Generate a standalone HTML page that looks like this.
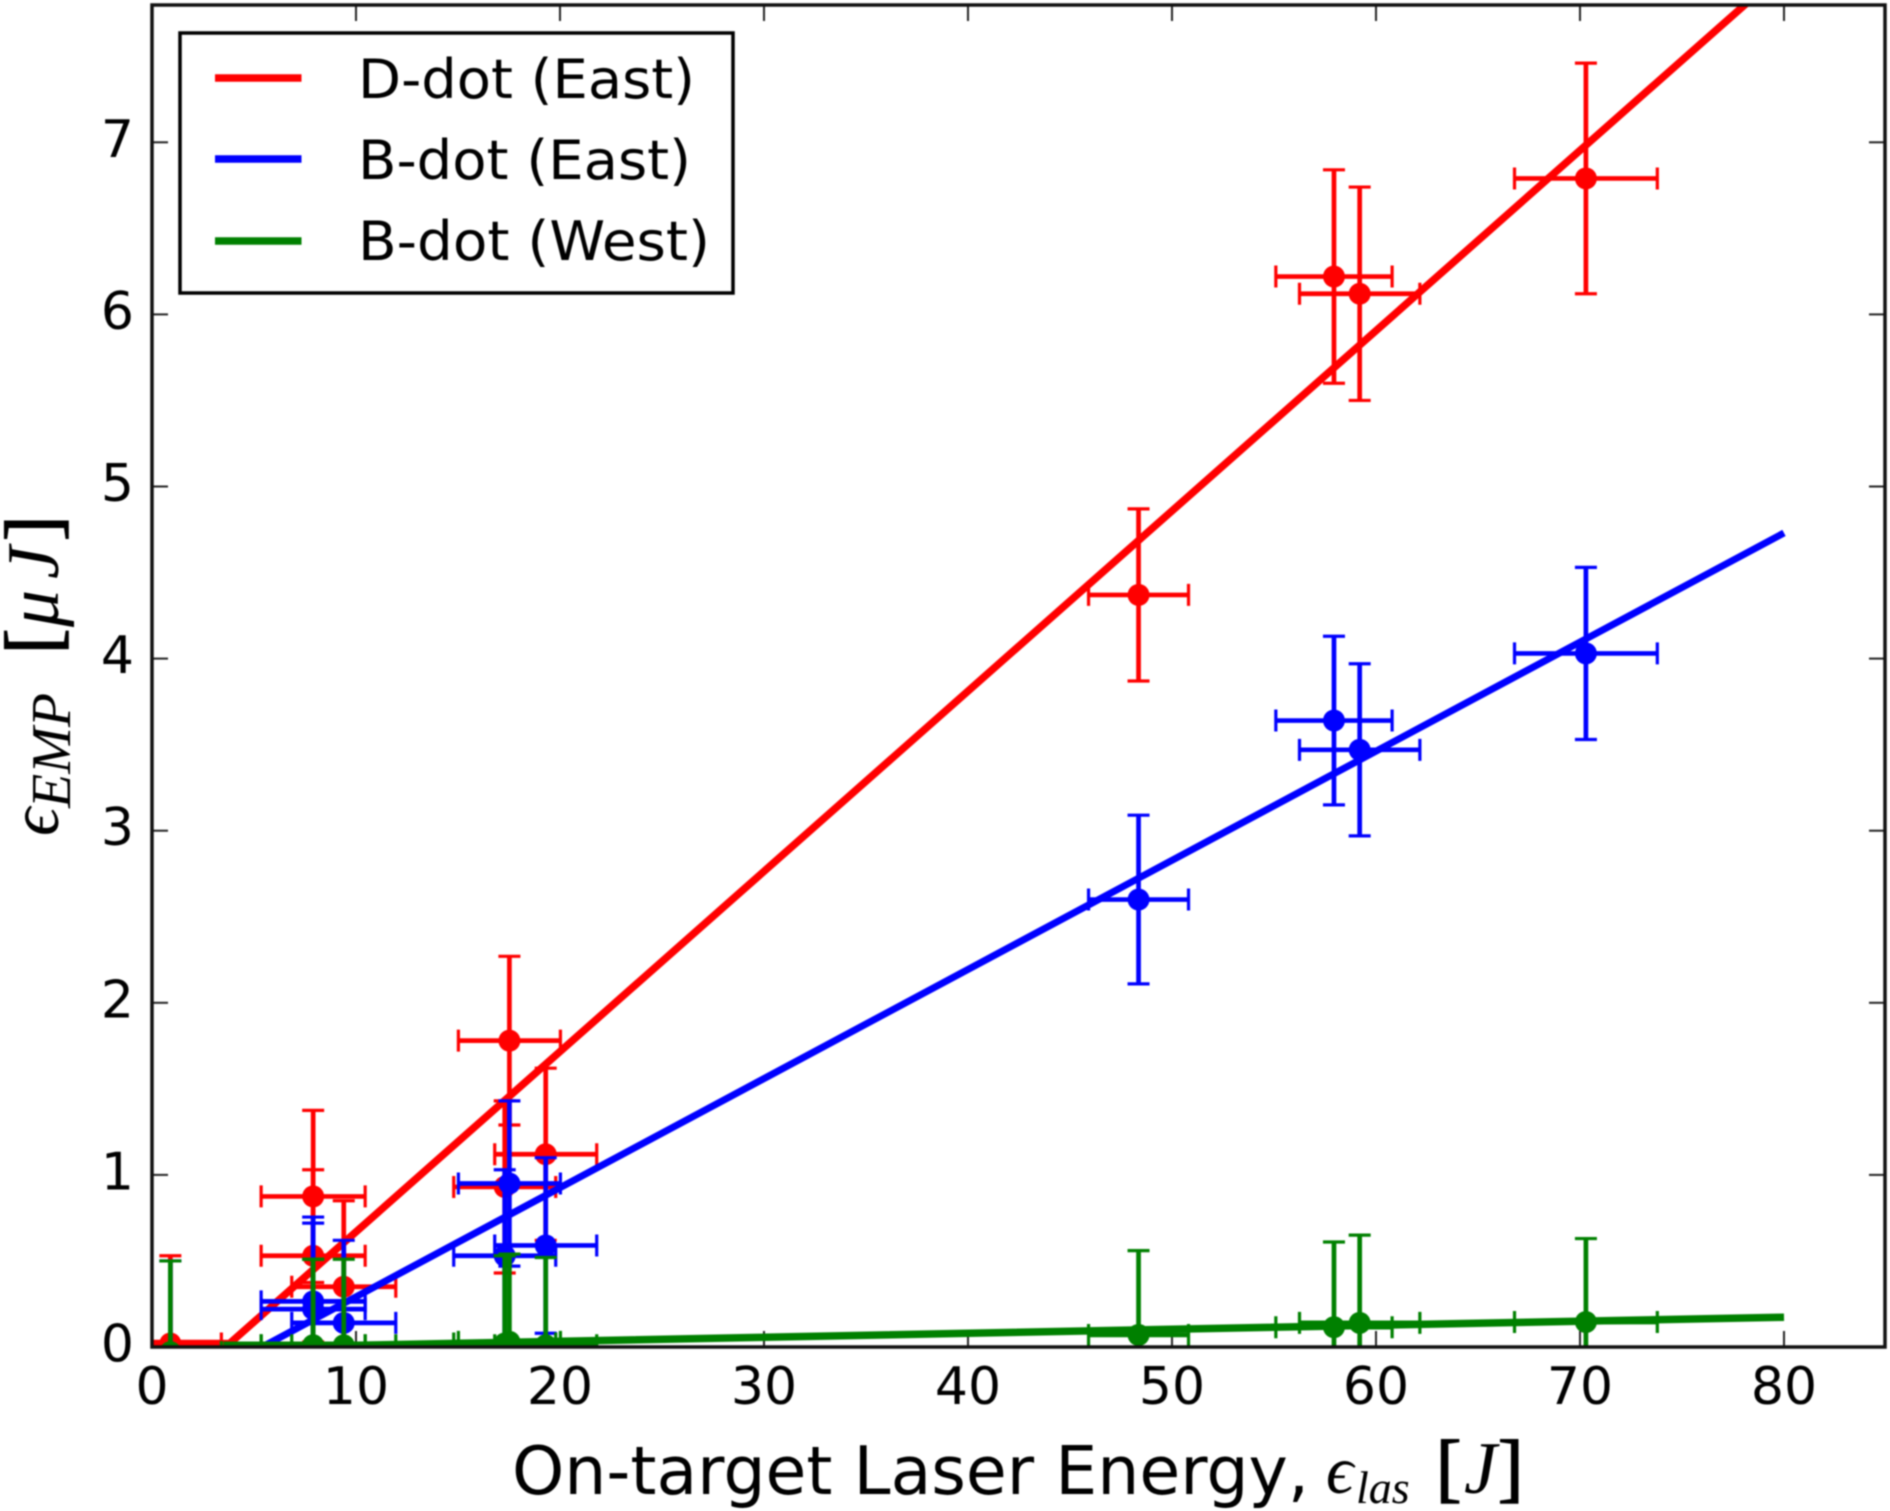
<!DOCTYPE html>
<html lang="en">
<head>
<meta charset="utf-8">
<title>EMP energy vs on-target laser energy</title>
<style>
html,body{margin:0;padding:0;background:#fff;width:1890px;height:1511px;overflow:hidden}
#chart{display:block;filter:blur(0.9px)}
text{fill:#000}
.sans{font-family:"DejaVu Sans","Liberation Sans",sans-serif}
.serif{font-family:"Liberation Serif","DejaVu Serif",serif}
.bracket{stroke:#000;stroke-width:1.6px}
</style>
</head>
<body>
<svg id="chart" xmlns="http://www.w3.org/2000/svg" width="1890" height="1511" viewBox="0 0 1890 1511">
  <defs><clipPath id="plot-clip"><rect x="152" y="5" width="1733" height="1342"/></clipPath></defs>
  <rect x="152" y="5" width="1733" height="1342" fill="#fff"/>
  <g id="ticks"></g>
  <g id="marks" clip-path="url(#plot-clip)"></g>
  <rect x="152" y="5" width="1733" height="1342" fill="none" stroke="#111" stroke-width="3.5"/>
  <g id="labels"></g>

  <g>
    <rect x="180" y="33" width="553" height="260" fill="#fff" stroke="#000" stroke-width="3.5"/>
    <line x1="215" x2="301.5" y1="78" y2="78" stroke="#ff0000" stroke-width="7.5"/>
    <line x1="215" x2="301.5" y1="159" y2="159" stroke="#0000ff" stroke-width="7.5"/>
    <line x1="215" x2="301.5" y1="241" y2="241" stroke="#008000" stroke-width="7.5"/>
    <text class="sans" x="358" y="98" font-size="54" textLength="337" lengthAdjust="spacingAndGlyphs">D-dot (East)</text>
    <text class="sans" x="358" y="179" font-size="54" textLength="333" lengthAdjust="spacingAndGlyphs">B-dot (East)</text>
    <text class="sans" x="358" y="260" font-size="54" textLength="352" lengthAdjust="spacingAndGlyphs">B-dot (West)</text>
  </g>

  <g>
    <text class="sans" x="512" y="1494" font-size="67" textLength="797" lengthAdjust="spacingAndGlyphs">On-target Laser Energy,</text>
    <text class="serif" y="1493" font-size="74">
      <tspan x="1326" font-size="68" font-style="italic">ϵ</tspan><tspan x="1356" y="1503" font-size="46" font-style="italic">las</tspan><tspan class="bracket" x="1436" y="1493" font-size="76">[</tspan><tspan x="1464" font-style="italic">J</tspan><tspan class="bracket" x="1498" font-size="76">]</tspan>
    </text>
  </g>

  <g transform="translate(58,0) rotate(-90)">
    <text class="serif" y="0" font-size="74">
      <tspan x="-836" font-size="70" font-style="italic">ϵ</tspan><tspan x="-808" y="12" font-size="56" font-style="italic">EMP</tspan><tspan class="bracket" x="-654" y="0" font-size="76">[</tspan><tspan x="-627" font-style="italic">μ</tspan><tspan x="-579" font-style="italic">J</tspan><tspan class="bracket" x="-541" font-size="76">]</tspan>
    </text>
  </g>
</svg>

<script>
// Chart data
const energy = [0.9, 7.9, 7.9, 9.4, 17.52, 17.29, 19.3, 48.36, 57.94, 59.2, 70.29];
const energyErr = [2.5, 2.55, 2.55, 2.55, 2.5, 2.5, 2.5, 2.45, 2.85, 2.95, 3.5];

const dDotEast = [0.02, 0.875, 0.53, 0.35, 1.78, 0.93, 1.12, 4.37, 6.22, 6.12, 6.79];
const dDotEastErr = [0.51, 0.5, 0.5, 0.5, 0.49, 0.5, 0.5, 0.5, 0.62, 0.62, 0.67];

const bDotEast = [-0.07, 0.265, 0.22, 0.14, 0.95, 0.53, 0.59, 2.6, 3.64, 3.47, 4.03];
const bDotEastErr = [0.57, 0.49, 0.5, 0.48, 0.48, 0.5, 0.51, 0.49, 0.49, 0.5, 0.5];

const bDotWest = [-0.03, 0.01, 0.01, 0.01, 0.03, 0.02, 0.01, 0.07, 0.115, 0.14, 0.145];
const bDotWestErr = [0.53, 0.5, 0.5, 0.5, 0.51, 0.51, 0.51, 0.49, 0.495, 0.51, 0.485];

const dDotFitX = [0, 3.8, 80];
const dDotFitY = [0.02, 0.02, 8.0];
const bDotEastFitX = [5.4, 80];
const bDotEastFitY = [0, 4.73];
const bDotWestFitX = [3.5, 10, 80];
const bDotWestFitY = [0.01, 0.01, 0.173];

const xTickValues = [0, 10, 20, 30, 40, 50, 60, 70, 80];
const yTickValues = [0, 1, 2, 3, 4, 5, 6, 7];

// Axis functions
function xs(v) { return 152 + v * 20.4; }
function ys(v) { return 1347 - v * 172.1; }

const NS = 'http://www.w3.org/2000/svg';
function mk(tag, parent, props) {
  const node = document.createElementNS(NS, tag);
  for (const k in props) node.setAttribute(k, props[k]);
  parent.appendChild(node);
  return node;
}

const ticksG = document.getElementById('ticks');
const labelsG = document.getElementById('labels');
const marksG = document.getElementById('marks');
const TICK = 16;

xTickValues.forEach(function (v) {
  const x = xs(v);
  const bottomTick = mk('line', ticksG, {x1: x, x2: x, y1: 1347, y2: 1347 - TICK, stroke: '#222', 'stroke-width': 2});
  
  
  const topTick = mk('line', ticksG, {x1: x, x2: x, y1: 5, y2: 5 + TICK, stroke: '#222', 'stroke-width': 2});
  
  
  const label = mk('text', labelsG, {x: x, y: 1404, 'text-anchor': 'middle', 'font-size': 52, class: 'sans'});
  label.textContent = String(v);
  
  
});

yTickValues.forEach(function (v) {
  const y = ys(v);
  const leftTick = mk('line', ticksG, {x1: 152, x2: 152 + TICK, y1: y, y2: y, stroke: '#222', 'stroke-width': 2});
  
  
  const rightTick = mk('line', ticksG, {x1: 1885, x2: 1885 - TICK, y1: y, y2: y, stroke: '#222', 'stroke-width': 2});
  
  
  const label = mk('text', labelsG, {x: 134, y: y + 14.5, 'text-anchor': 'end', 'font-size': 52, class: 'sans'});
  label.textContent = String(v);
  
  
});

function drawSeries(slug, color, values, errors, fitX, fitY, fitWidth) {
  const group = mk('g', marksG, {});
  
  

  values.forEach(function (val, i) {
    const cx = xs(energy[i]);
    const cy = ys(val);
    const xL = xs(energy[i] - energyErr[i]);
    const xR = xs(energy[i] + energyErr[i]);
    const yT = ys(val + errors[i]);
    const yB = ys(val - errors[i]);
    const barPath = 'M' + xL + ' ' + cy + 'H' + xR + 'M' + cx + ' ' + yT + 'V' + yB;
    const bar = mk('path', group, {d: barPath, fill: 'none', stroke: color, 'stroke-width': 4.7});
    
    
    const capPath = 'M' + xL + ' ' + (cy - 11) + 'V' + (cy + 11) +
      'M' + xR + ' ' + (cy - 11) + 'V' + (cy + 11) +
      'M' + (cx - 11) + ' ' + yT + 'H' + (cx + 11) +
      'M' + (cx - 11) + ' ' + yB + 'H' + (cx + 11);
    const caps = mk('path', group, {d: capPath, fill: 'none', stroke: color, 'stroke-width': 3.2});
    
    
    const dot = mk('circle', group, {cx: cx, cy: cy, r: 11, fill: color});
    
    
  });

  const pts = fitX.map(function (x, i) { return xs(x) + ',' + ys(fitY[i]); }).join(' ');
  const fit = mk('polyline', group, {points: pts, fill: 'none', stroke: color, 'stroke-width': fitWidth, 'stroke-linejoin': 'round'});
  
  
}

drawSeries('d-dot-east', '#ff0000', dDotEast, dDotEastErr, dDotFitX, dDotFitY, 7.5);
drawSeries('b-dot-east', '#0000ff', bDotEast, bDotEastErr, bDotEastFitX, bDotEastFitY, 7);
drawSeries('b-dot-west', '#008000', bDotWest, bDotWestErr, bDotWestFitX, bDotWestFitY, 7.5);
</script>
</body>
</html>
